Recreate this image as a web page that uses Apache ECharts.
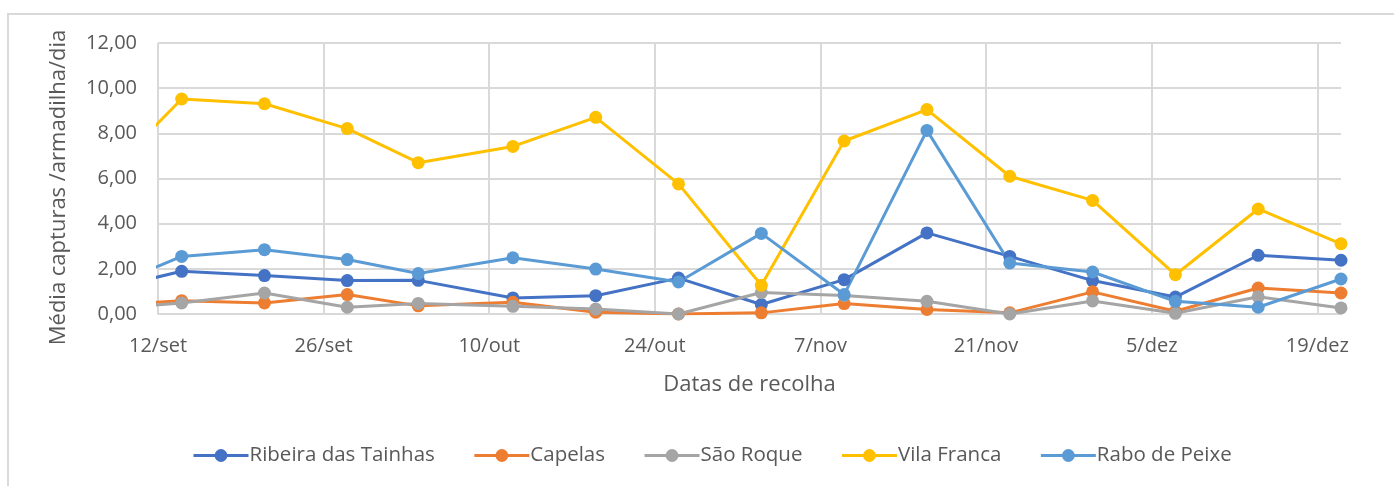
<!DOCTYPE html>
<html>
<head>
<meta charset="utf-8">
<script src="https://cdn.jsdelivr.net/npm/echarts@6/dist/echarts.min.js"></script>
<style>
html,body{margin:0;padding:0;background:#fff;}
#chart{width:1394px;height:486px;}
</style>
</head>
<body>
<div id="chart"></div>
<script>
// Collection dates (first one lies before the axis start and is clipped)
const dates = ['7/set','14/set','21/set','28/set','4/out','12/out','19/out','26/out','2/nov','9/nov','16/nov','23/nov','30/nov','7/dez','14/dez','21/dez'];
const seriesNames = ['Ribeira das Tainhas','Capelas','São Roque','Vila Franca','Rabo de Peixe'];
const ribeira   = [1.02,1.89,1.70,1.48,1.49,0.71,0.81,1.59,0.42,1.52,3.59,2.55,1.48,0.75,2.60,2.38];
const capelas   = [0.35,0.59,0.49,0.86,0.36,0.52,0.08,0.00,0.05,0.46,0.20,0.05,0.98,0.12,1.15,0.93];
const saoRoque  = [0.21,0.49,0.93,0.30,0.47,0.34,0.22,0.00,0.95,0.82,0.56,0.00,0.58,0.03,0.76,0.27];
const vilaFranca= [5.80,9.52,9.31,8.21,6.70,7.42,8.71,5.76,1.27,7.66,9.05,6.10,5.03,1.74,4.65,3.11];
const raboPeixe = [1.01,2.55,2.85,2.41,1.79,2.49,1.99,1.42,3.57,0.86,8.13,2.26,1.86,0.56,0.30,1.55];
const yTicks = [0,2,4,6,8,10,12];
const colors = ['#4472C4','#ED7D31','#A5A5A5','#FFC000','#5B9BD5'];

const months = ['jan','fev','mar','abr','mai','jun','jul','ago','set','out','nov','dez'];
const base = new Date(2021, 8, 12);
function toOffset(s){
  const p = s.split('/');
  const d = new Date(2021, months.indexOf(p[1]), parseInt(p[0],10));
  return Math.round((d - base) / 86400000);
}
function fromOffset(v){
  const d = new Date(base.getTime() + v * 86400000);
  return d.getDate() + '/' + months[d.getMonth()];
}
const xs = dates.map(toOffset);
const allData = [ribeira, capelas, saoRoque, vilaFranca, raboPeixe];

const font = '"Open Sans", sans-serif';
const chart = echarts.init(document.getElementById('chart'), null, {renderer:'canvas'});
chart.setOption({
  animation:false,
  color: colors,
  graphic:[{type:'rect', shape:{x:8,y:14,width:1400,height:490}, style:{fill:'none', stroke:'#D9D9D9', lineWidth:2}, silent:true, z:-1}],
  grid:{left:158, right:53, top:43, bottom:172},
  legend:{
    left:187, top:440, itemWidth:55, itemHeight:16, itemGap:38,
    lineStyle:{width:3},
    textStyle:{fontFamily:font, fontSize:20.5, color:'#595959', padding:[0,0,0,-4]},
    data: seriesNames
  },
  xAxis:{
    type:'value', min:0, max:100, interval:14,
    name:'Datas de recolha', nameLocation:'middle', nameGap:60,
    nameTextStyle:{fontFamily:font, fontSize:22, color:'#595959'},
    axisLine:{show:true, lineStyle:{color:'#D9D9D9', width:2}},
    axisTick:{show:false},
    axisLabel:{fontFamily:font, fontSize:20, color:'#595959', margin:22, showMaxLabel:false, formatter:v=>fromOffset(v)},
    splitLine:{show:true, showMaxLine:false, lineStyle:{color:'#D9D9D9', width:2}}
  },
  yAxis:{
    type:'value', min:yTicks[0], max:yTicks[yTicks.length-1], interval:2,
    name:'Média capturas /armadilha/dia', nameLocation:'middle', nameGap:88,
    nameTextStyle:{fontFamily:font, fontSize:22, color:'#595959', padding:[0,18,0,0]},
    axisLine:{show:false}, axisTick:{show:false},
    axisLabel:{fontFamily:font, fontSize:20, color:'#595959', margin:21, formatter:v=>v.toFixed(2).replace('.',',')},
    splitLine:{show:true, lineStyle:{color:'#D9D9D9', width:2}}
  },
  series: seriesNames.map((n,i)=>({
    name:n, type:'line', clip:true,
    data: xs.map((x,j)=>[x, allData[i][j]]),
    symbol:'circle', symbolSize:13,
    lineStyle:{width:3, color:colors[i]},
    itemStyle:{color:colors[i]},
    emphasis:{disabled:true}
  }))
});
</script>
</body>
</html>
